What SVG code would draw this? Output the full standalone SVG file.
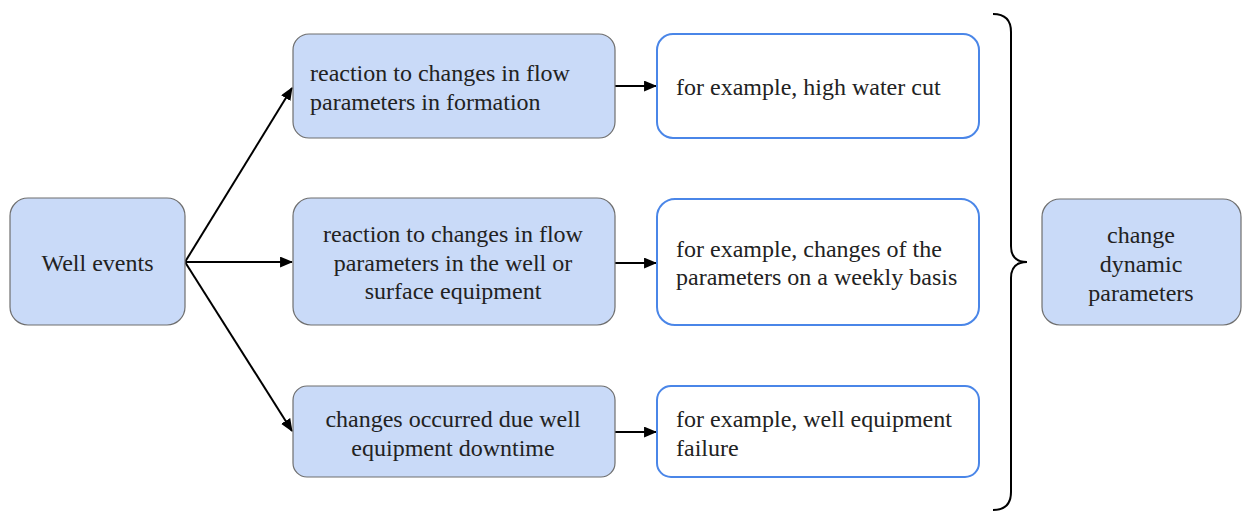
<svg xmlns="http://www.w3.org/2000/svg" width="1242" height="511" viewBox="0 0 1242 511">
  <style>
    .blue { fill: #c9daf8; stroke: #6f6f6f; stroke-width: 1.2; }
    .white { fill: #ffffff; stroke: #4a86e8; stroke-width: 2; }
    .label { font-family: "Liberation Serif", "Times New Roman", serif; font-size: 24px; fill: #222222; }
    .c { text-anchor: middle; }
    .conn { stroke: #000; stroke-width: 2; fill: none; }
  </style>
  <defs>
    <marker id="arrow" viewBox="0 0 12 10" refX="11" refY="5" markerWidth="6.5" markerHeight="5.5" markerUnits="strokeWidth" orient="auto">
      <path d="M0,0 L12,5 L0,10 z" fill="#000"/>
    </marker>
  </defs>

  <g id="connectors">
    <line class="conn" x1="185" y1="262" x2="292" y2="88" marker-end="url(#arrow)"/>
    <line class="conn" x1="185" y1="262" x2="292" y2="262" marker-end="url(#arrow)"/>
    <line class="conn" x1="185" y1="262" x2="292" y2="431" marker-end="url(#arrow)"/>
    <line class="conn" x1="615" y1="86" x2="656" y2="86" marker-end="url(#arrow)"/>
    <line class="conn" x1="615" y1="263" x2="656" y2="263" marker-end="url(#arrow)"/>
    <line class="conn" x1="615" y1="432" x2="656" y2="432" marker-end="url(#arrow)"/>
    <!-- curly brace grouping the example boxes -->
    <path class="conn" d="M993,14 Q1011,14 1011,32 L1011,246 Q1011,262 1027,262 Q1011,262 1011,278 L1011,492 Q1011,510 993,510"/>
  </g>

  <g id="well-events">
    <rect class="blue" x="10" y="198" width="175" height="127" rx="18"/>
    <text class="label c" x="97.5" y="271">Well events</text>
  </g>

  <g id="formation">
    <rect class="blue" x="293" y="34" width="322" height="104" rx="16"/>
    <text class="label" x="310" y="81">reaction to changes in flow</text>
    <text class="label" x="310" y="110">parameters in formation</text>
  </g>

  <g id="well-surface">
    <rect class="blue" x="293" y="198" width="322" height="127" rx="18"/>
    <text class="label c" x="453" y="242">reaction to changes in flow</text>
    <text class="label c" x="453" y="271">parameters in the well or</text>
    <text class="label c" x="453" y="299">surface equipment</text>
  </g>

  <g id="downtime">
    <rect class="blue" x="293" y="386" width="322" height="91" rx="14"/>
    <text class="label c" x="453" y="427">changes occurred due well</text>
    <text class="label c" x="453" y="456">equipment downtime</text>
  </g>

  <g id="example-water-cut">
    <rect class="white" x="657" y="34" width="322" height="104" rx="16"/>
    <text class="label" x="676" y="95">for example, high water cut</text>
  </g>

  <g id="example-weekly">
    <rect class="white" x="657" y="199" width="322" height="126" rx="18"/>
    <text class="label" x="676" y="257">for example, changes of the</text>
    <text class="label" x="676" y="285">parameters on a weekly basis</text>
  </g>

  <g id="example-failure">
    <rect class="white" x="657" y="386" width="322" height="91" rx="14"/>
    <text class="label" x="676" y="427">for example, well equipment</text>
    <text class="label" x="676" y="456">failure</text>
  </g>

  <g id="dynamic-parameters">
    <rect class="blue" x="1042" y="199" width="199" height="126" rx="18"/>
    <text class="label c" x="1141" y="243">change</text>
    <text class="label c" x="1141" y="272">dynamic</text>
    <text class="label c" x="1141" y="301">parameters</text>
  </g>
</svg>
